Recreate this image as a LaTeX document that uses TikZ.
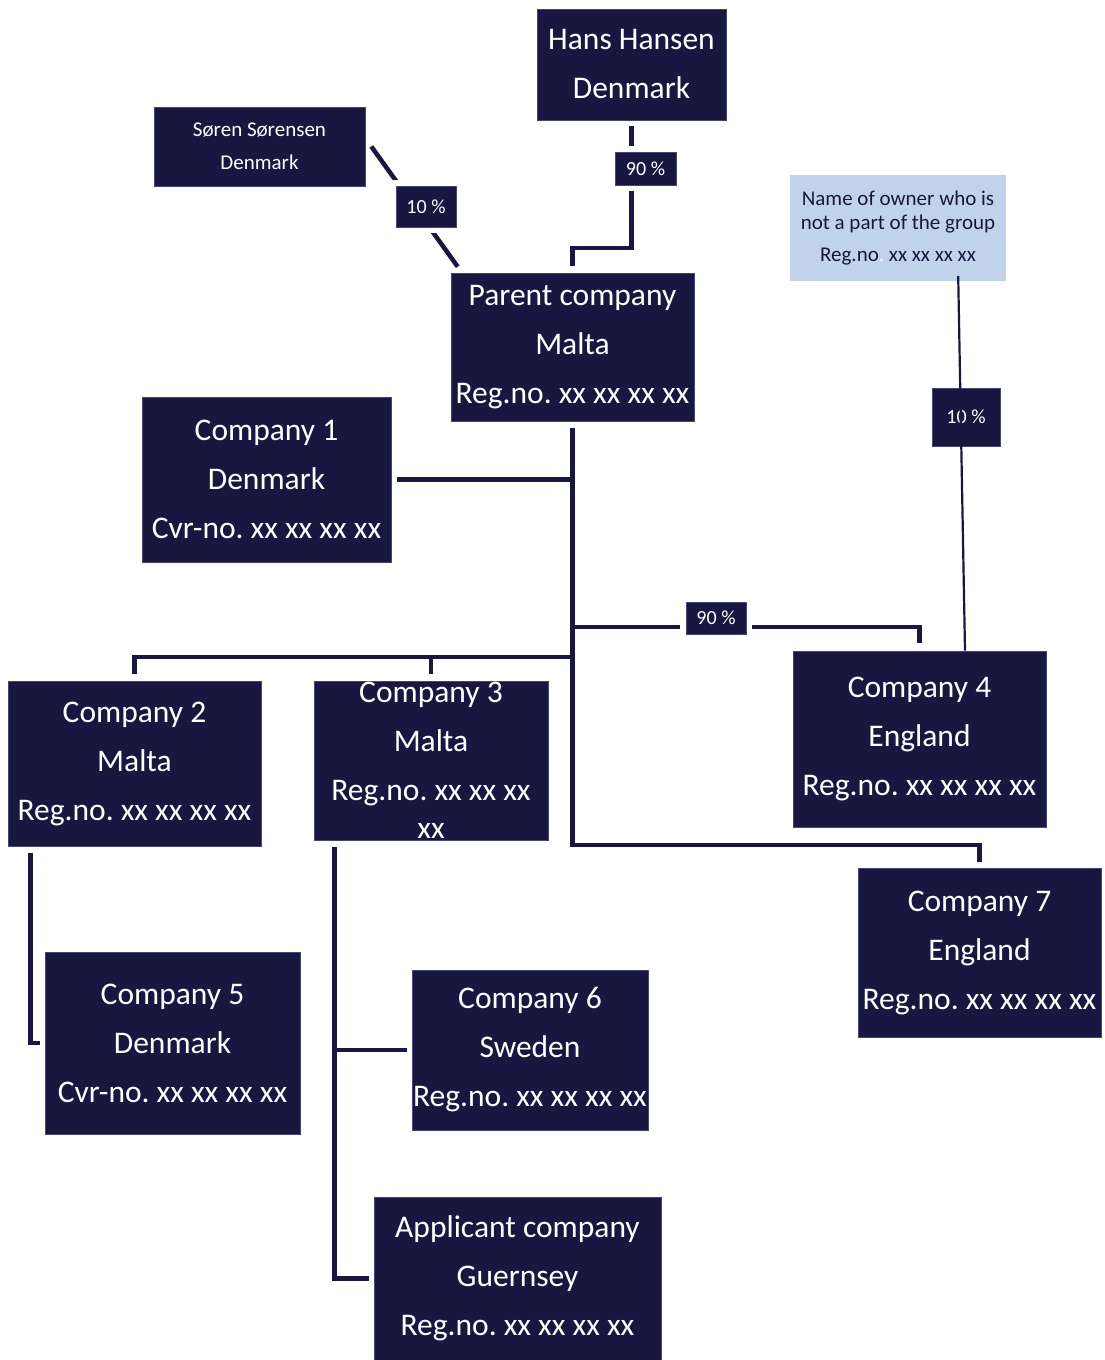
\documentclass[tikz,border=0pt]{standalone}
\usepackage{fontspec}
\setmainfont{Carlito}
\usetikzlibrary{calc}
\definecolor{navy}{RGB}{25,23,64}
\definecolor{navyedge}{RGB}{70,70,110}
\definecolor{lightblue}{RGB}{192,211,234}
\frenchspacing
\begin{document}
\begin{tikzpicture}[x=1pt,y=-1pt,
 box/.style={rectangle, fill=navy, draw=navyedge, line width=0.6pt, text=white, align=center, inner sep=0pt, font=\fontsize{31.5}{49}\selectfont},
 smallbox/.style={box, font=\fontsize{21}{33}\selectfont},
 ownerbox/.style={rectangle, fill=lightblue, draw=none, text=navy, align=center, inner sep=0pt, font=\fontsize{21}{24}\selectfont},
 pct/.style={rectangle, fill=navy, draw=navyedge, line width=0.6pt, text=white, inner sep=0pt, font=\fontsize{20}{24}\selectfont},
 halo/.style={preaction={draw=white, line width=12pt}},
 conn/.style={draw=navy, line width=4.5pt},
 thinconn/.style={draw=navy, line width=2.2pt},
]
\fill[white] (0,0) rectangle (1105,1360);
\useasboundingbox (0,0) rectangle (1105,1360);

% boxes
\node[box, minimum width=189pt, minimum height=111pt] (hans) at (631.5,64.5) {Hans Hansen\\Denmark};
\node[smallbox, minimum width=211pt, minimum height=79pt] (sor) at (259.5,146.5) {Søren Sørensen\\Denmark};
\node[box, minimum width=243pt, minimum height=148pt] (par) at (572.5,347) {Parent company\\Malta\\Reg.no. xx xx xx xx};
\node[ownerbox, minimum width=216pt, minimum height=106pt] (own) at (898,228) {Name of owner who is\\not a part of the group\\[8pt]Reg.no{\color{white}.} xx xx xx xx};
\node[box, minimum width=249pt, minimum height=165pt] (c1) at (266.5,479.5) {Company 1\\Denmark\\Cvr-no. xx xx xx xx};
\node[box, minimum width=253pt, minimum height=165pt] (c2) at (134.5,763.5) {Company 2\\Malta\\Reg.no. xx xx xx xx};
\node[box, minimum width=234pt, minimum height=159pt] (c3) at (431,760.5) {Company 3\\Malta\\Reg.no. xx xx xx\\[-11pt]xx};
\node[box, minimum width=253pt, minimum height=176pt] (c4) at (919.5,739) {Company 4\\England\\Reg.no. xx xx xx xx};
\node[box, minimum width=255pt, minimum height=182pt] (c5) at (172.5,1043) {Company 5\\Denmark\\Cvr-no. xx xx xx xx};
\node[box, minimum width=236pt, minimum height=160pt] (c6) at (530,1050) {Company 6\\Sweden\\Reg.no. xx xx xx xx};
\node[box, minimum width=243pt, minimum height=169pt] (c7) at (979.5,952.5) {Company 7\\England\\Reg.no. xx xx xx xx};
\node[box, minimum width=287pt, minimum height=163pt] (app) at (517.5,1278.5) {Applicant company\\Guernsey\\Reg.no. xx xx xx xx};

% junction coordinates
\coordinate (hb) at (572.5,248);
\coordinate (j4) at (572.5,627);
\coordinate (j23) at (572.5,657);
\coordinate (jbot) at (572.5,845);

% connectors
\draw[conn] ([xshift=6pt]sor.east) -- ([xshift=7pt,yshift=6pt]par.north west);
\draw[conn] ([yshift=-6pt]hans.south) |- (hb) -- ([yshift=7pt]par.north);
\draw[conn] ([yshift=-7pt]par.south) -- (jbot) -| ([yshift=6pt]c7.north);
\draw[conn] ([xshift=6pt]c1.east) -- (par.south |- c1.east);
\draw[conn] (j4) -| ([yshift=8pt]c4.north);
\draw[conn] (j23) -| ([yshift=7pt]c2.north);
\draw[conn] ([yshift=7pt]c3.north) -- (c3.north |- j23);
\draw[conn] ([xshift=23pt,yshift=-7pt]c2.south west) |- ([xshift=-5pt]c5.west);
\coordinate (c3d) at ([xshift=21pt,yshift=-7pt]c3.south west);
\draw[conn] (c3d) |- ([xshift=-5pt]app.west);
\draw[conn] (c3d |- c6.west) -- ([xshift=-5pt]c6.west);

% percentage labels
\node[pct, halo, minimum width=60pt, minimum height=41pt] (p1) at (426,206.5) {10 \%};
\node[pct, halo, minimum width=61pt, minimum height=33pt] (p2) at (645.5,168.5) {90 \%};
\node[pct, halo, minimum width=60pt, minimum height=32pt] (p4) at (716,618) {90 \%};
\node[pct, minimum width=68pt, minimum height=58pt] (p3) at (966,417) {10 \%};

\draw[thinconn] ([xshift=-48pt,yshift=5pt]own.south east) -- ([xshift=45.5pt]c4.north);
\end{tikzpicture}
\end{document}
